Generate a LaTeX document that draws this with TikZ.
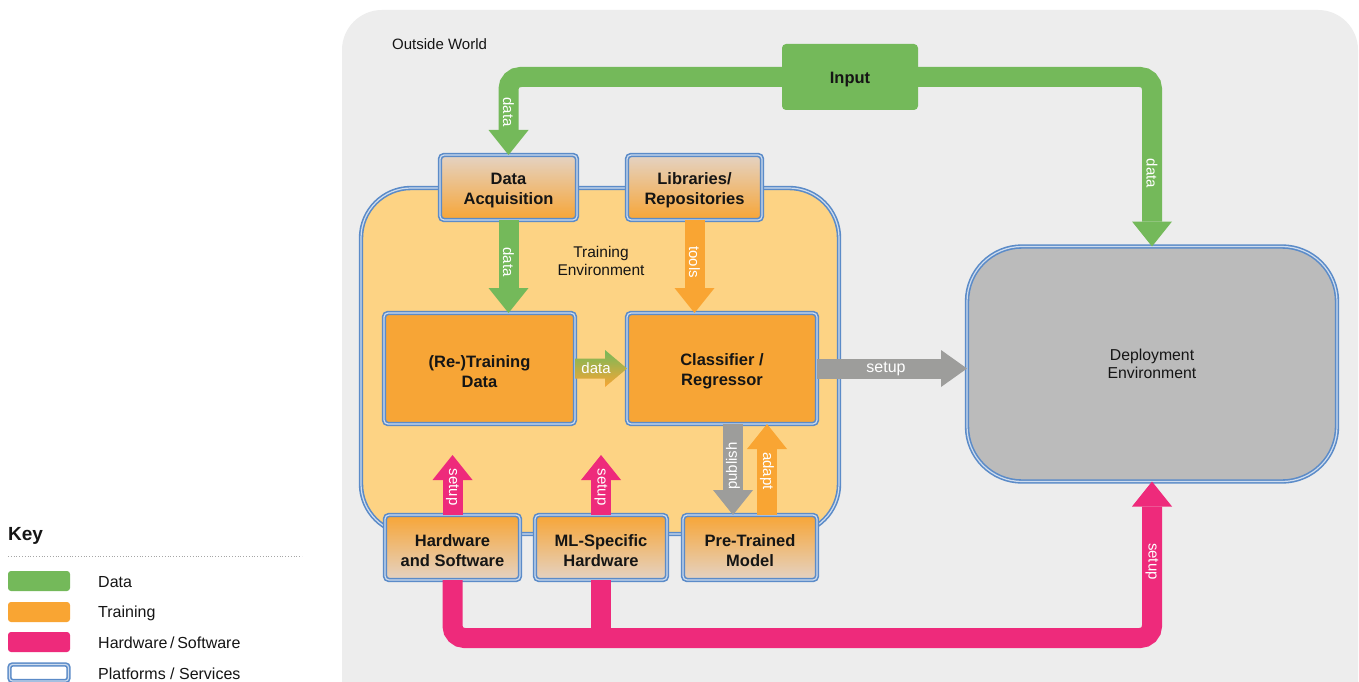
\documentclass[tikz,border=0pt]{standalone}
\usepackage{fontspec}
\setmainfont{Liberation Sans}
\usetikzlibrary{arrows.meta,calc}
\definecolor{greenc}{HTML}{74B95A}
\definecolor{orangec}{HTML}{F9A533}
\definecolor{pinkc}{HTML}{EE2A7B}
\definecolor{greyc}{HTML}{9D9D9B}
\definecolor{bluec}{HTML}{5B8BC8}
\definecolor{trainc}{HTML}{FDD384}
\definecolor{depc}{HTML}{BBBBBB}
\definecolor{boxor}{HTML}{F7A536}
\definecolor{lightc}{HTML}{E4D3C4}
\definecolor{bgc}{HTML}{EDEDED}
\definecolor{txt}{HTML}{151515}
\begin{document}
\begin{tikzpicture}[x=1pt,y=-1pt,
  every node/.style={text=txt},
  plat/.style={draw=bluec,line width=1.6pt,double=white!70!bluec,double distance=1.2pt,inner sep=0pt,outer sep=0pt,align=center},
  boxtxt/.style={align=center,inner sep=0pt,text=txt,font=\bfseries\fontsize{16.5}{20}\selectfont,yshift=-3pt},
  ebox/.style={plat,rounded corners=4pt,label={[boxtxt]center:{#1}}},
  topgrad/.style={top color=lightc,bottom color=boxor},
  botgrad/.style={top color=boxor,bottom color=lightc},
  fat/.style={draw=#1,line width=20pt,-{Triangle[length=25pt,width=40pt,line width=0pt]}},
  albl/.style={text=white,font=\fontsize{15}{17}\selectfont,inner sep=0pt},
  keylbl/.style={anchor=west,font=\fontsize{16}{18}\selectfont,inner sep=0pt},
  swatch/.style={rounded corners=3pt},
]
\useasboundingbox (0,0) rectangle (1359,682);
\clip (0,0) rectangle (1359,682);
\fill[white] (0,0) rectangle (1359,682);
% outside world
\fill[bgc, rounded corners=40pt] (342,10) rectangle (1358,730);
\node[anchor=west,font=\fontsize{15}{17}\selectfont,inner sep=0pt] (ow) at (392,44) {Outside World};

% environments
\node[plat, fill=trainc, rounded corners=50pt, minimum width=478pt, minimum height=346pt] (te) at (600,361) {};
\node[font=\fontsize{15.5}{18}\selectfont, align=center] (tel) at (601,261) {Training\\Environment};
\node[plat, fill=depc, rounded corners=55pt, minimum width=370pt, minimum height=235pt, font=\fontsize{15.8}{18}\selectfont] (dep) at (1152,364) {Deployment\\Environment};

% input
\node[fill=greenc, rounded corners=4pt, minimum width=136pt, minimum height=66pt, inner sep=0pt, outer sep=0pt, label={[boxtxt]center:Input}] (in) at (850,77) {};

% boxes
\node[ebox={Data\\Acquisition}, topgrad, minimum width=137pt, minimum height=65pt] (da) at (508.5,187.5) {};
\node[ebox={Libraries/\\Repositories}, topgrad, minimum width=135pt, minimum height=65pt] (lib) at (694.5,187.5) {};
\node[ebox={(Re-)Training\\Data}, fill=boxor, minimum width=191pt, minimum height=111pt] (rd) at (479.5,368.5) {};
\node[ebox={Classifier /\\Regressor}, fill=boxor, minimum width=190pt, minimum height=111pt] (cl) at (722,368.5) {};
\node[ebox={Hardware\\and Software}, botgrad, minimum width=135pt, minimum height=65pt] (hw) at (452.5,547.5) {};
\node[ebox={ML-Specific\\Hardware}, botgrad, minimum width=132pt, minimum height=65pt] (ml) at (601,547.5) {};
\node[ebox={Pre-Trained\\Model}, botgrad, minimum width=134pt, minimum height=65pt] (pt) at (750,547.5) {};

% green input arrows
\draw[fat=greenc, rounded corners=12pt] (in.west) -| (da.north);
\draw[fat=greenc, rounded corners=12pt] (in.east) -| (dep.north);
\node[albl, rotate=-90] at ($(da.north)+(0,-43)$) {data};
\node[albl, rotate=-90] at ($(dep.north)+(0,-73)$) {data};

% inner arrows
\draw[fat=greenc] (da.south) -- (da.south |- rd.north);
\node[albl, rotate=-90] at ($(da.south)+(0,42)$) {data};
\draw[fat=orangec] (lib.south) -- (lib.south |- cl.north);
\node[albl, rotate=-90] at ($(lib.south)+(0,42)$) {tools};

\shade[top color=greenc, bottom color=orangec]
  ($(rd.east)+(0,-10)$) -- ($(cl.west)+(-22,-10)$) -- ($(cl.west)+(-22,-18.5)$) -- (cl.west)
  -- ($(cl.west)+(-22,18.5)$) -- ($(cl.west)+(-22,10)$) -- ($(rd.east)+(0,10)$) -- cycle;
\node[albl] at ($(rd.east)+(21,0)$) {data};

\draw[draw=greyc,line width=20pt,-{Triangle[length=26pt,width=37pt,line width=0pt]}] (cl.east) -- (cl.east -| dep.west);
\node[albl, font=\fontsize{16}{18}\selectfont] at ($(cl.east)+(69,0)$) {setup};

\draw[fat=greyc] ([xshift=11pt]cl.south) -- ([xshift=11pt]cl.south |- pt.north);
\node[albl, rotate=90] at ($(cl.south)+(11,42)$) {publish};
\draw[fat=orangec] ([xshift=45pt]cl.south |- pt.north) -- ([xshift=45pt]cl.south);
\node[albl, rotate=-90] at ($(cl.south)+(45,47)$) {adapt};

% pink setup arrows
\draw[fat=pinkc] (hw.north) -- ++(0,-60);
\node[albl, rotate=-90] at ($(hw.north)+(0,-28)$) {setup};
\draw[fat=pinkc] (ml.north) -- ++(0,-60);
\node[albl, rotate=-90] at ($(ml.north)+(0,-28)$) {setup};
\draw[draw=pinkc, line width=20pt] (ml.south) -- ($(ml.south)+(0,66)$);
\draw[fat=pinkc, rounded corners=12pt] (hw.south) -- ($(hw.south)+(0,58)$) -| (dep.south);
\node[albl, rotate=-90] at ($(dep.south)+(0,80)$) {setup};

% key
\node[anchor=west, inner sep=0pt, font=\bfseries\fontsize{19}{22}\selectfont] (key) at (8,536) {Key};
\draw[gray!70, dotted, line width=0.8pt] (8,556) -- (302,556);
\fill[greenc, swatch] (8,571) rectangle (70,591);
\node[keylbl] (k1) at (98,582) {Data};
\fill[orangec, swatch] (8,602) rectangle (70,622);
\node[keylbl] (k2) at (98,613) {Training};
\fill[pinkc, swatch] (8,632) rectangle (70,652);
\node[keylbl] (k3) at (98,643) {Hardware\,/\,Software};
\draw[plat, fill=white, swatch] (9.5,664.5) rectangle (68.5,681);
\node[keylbl] (k4) at (98,674) {Platforms / Services};
\end{tikzpicture}
\end{document}
